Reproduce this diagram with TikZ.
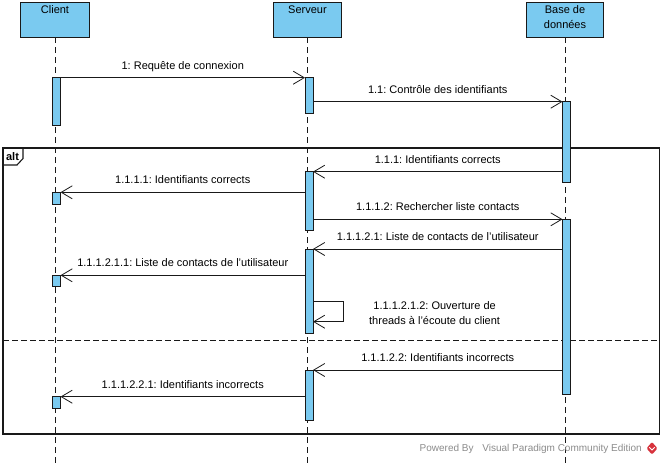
\documentclass[tikz,border=0pt]{standalone}
\usepackage{fontspec}
\setmainfont{Liberation Sans}
\usetikzlibrary{arrows.meta}
\definecolor{actblue}{RGB}{122,202,240}
\definecolor{ink}{RGB}{25,25,25}
\definecolor{footgray}{RGB}{140,140,140}
\definecolor{vpred}{RGB}{215,50,60}
\frenchspacing

\begin{document}
\begin{tikzpicture}[x=1pt,y=-1pt,
  every node/.style={font=\fontsize{11}{15}\selectfont, inner sep=0pt, outer sep=0pt},
  head/.style={draw=ink, line width=1.1pt, fill=actblue, minimum width=#1,
    minimum height=34.6pt, anchor=north},
  hlabel/.style={anchor=north, yshift=-3pt, align=center},
  act/.style={draw=ink, line width=0.8pt, fill=actblue, minimum width=8pt,
    minimum height=#1, anchor=north west},
  lifeline/.style={draw=ink, line width=0.8pt, dash pattern=on 6pt off 4pt},
  msg/.style={draw=ink, line width=0.8pt, -{Straight Barb[length=11pt,width=13pt]}},
  lbl/.style={anchor=base, yshift=8.5pt},
  frameline/.style={draw=ink, line width=1.1pt},
  sepline/.style={draw=ink, line width=1pt, dash pattern=on 6pt off 3pt}]

\useasboundingbox (0,0) rectangle (663,464);
\fill[white] (0,0) rectangle (663,464);

% lifeline heads
\node[head=68.3pt, label={[hlabel]north:Client}] (client) at (55,2.7) {};
\node[head=68pt, label={[hlabel]north:Serveur}] (server) at (307.5,2.7) {};
\node[head=77pt, label={[hlabel]north:Base de\\données}] (db) at (565,2.7) {};

% lifelines
\coordinate (clientEnd) at (55,464);
\coordinate (serverEnd) at (307.5,464);
\coordinate (dbEnd) at (565,464);
\draw[lifeline] (client.south) -- (clientEnd);
\draw[lifeline] (server.south) -- (serverEnd);
\draw[lifeline] (db.south) -- (dbEnd);

% combined fragment
\draw[frameline] (3,148) rectangle (659.5,434);
\draw[frameline] (3,165) -- (17,165) -- (23,158.5) -- (23,148);
\node[font=\fontsize{11}{13}\selectfont\bfseries] (altlbl) at (12.5,156.5) {alt};
\draw[sepline] (3,340.7) -- (659.5,340.7);

% activation bars
\node[act=47.6pt] (c1) at (52.5,77.7) {};
\node[act=11.7pt] (c2) at (52.5,192.3) {};
\node[act=11.4pt] (c3) at (52.5,275.3) {};
\node[act=11.6pt] (c4) at (52.5,396.7) {};
\node[act=35.6pt] (s1) at (305,77.7) {};
\node[act=59pt] (s2) at (305,171.7) {};
\node[act=84.3pt] (s3) at (305,249) {};
\node[act=50pt] (s4) at (305,370) {};
\node[act=81pt] (d1) at (562.5,101.7) {};
\node[act=175pt] (d2) at (562.5,219.3) {};

% messages
\draw[msg] (c1.north east) -- (s1.north west)
  node[lbl, midway] {1: Requête de connexion};
\draw[msg] (s1.east |- d1.north) -- (d1.north west)
  node[lbl, midway] {1.1: Contrôle des identifiants};
\draw[msg] (d1.west |- s2.north) -- (s2.north east)
  node[lbl, midway] {1.1.1: Identifiants corrects};
\draw[msg] (s2.west |- c2.north) -- (c2.north east)
  node[lbl, midway] {1.1.1.1: Identifiants corrects};
\draw[msg] (s2.east |- d2.north) -- (d2.north west)
  node[lbl, midway] {1.1.1.2: Rechercher liste contacts};
\draw[msg] (d2.west |- s3.north) -- (s3.north east)
  node[lbl, midway] {1.1.1.2.1: Liste de contacts de l'utilisateur};
\draw[msg] (s3.west |- c3.north) -- (c3.north east)
  node[lbl, midway] {1.1.1.2.1.1: Liste de contacts de l'utilisateur};

% self call on the server
\coordinate (loopTop) at (343,301.7);
\coordinate (loopBot) at (343,321.7);
\draw[msg] (s3.east |- loopTop) -- (loopTop) -- (loopBot) -- (s3.east |- loopBot);
\node[align=center] (selfLbl) at (434.6,313.5)
  {1.1.1.2.1.2: Ouverture de\\threads à l'écoute du client};

\draw[msg] (d2.west |- s4.north) -- (s4.north east)
  node[lbl, midway] {1.1.1.2.2: Identifiants incorrects};
\draw[msg] (s4.west |- c4.north) -- (c4.north east)
  node[lbl, midway] {1.1.1.2.2.1: Identifiants incorrects};

% footer
\node[font=\fontsize{10}{12}\selectfont, text=footgray, anchor=base east] (footer)
  at (641.7,451.3) {Powered By\hspace{6pt} Visual Paradigm Community Edition};
\fill[vpred, rounded corners=1.2pt] (652,442) -- (657.5,448.3) -- (652,454.6) -- (646.5,448.3) -- cycle;
\draw[white, line width=1pt] (649.3,447.3) -- (652,450) -- (654.7,447.3);
\end{tikzpicture}
\end{document}
